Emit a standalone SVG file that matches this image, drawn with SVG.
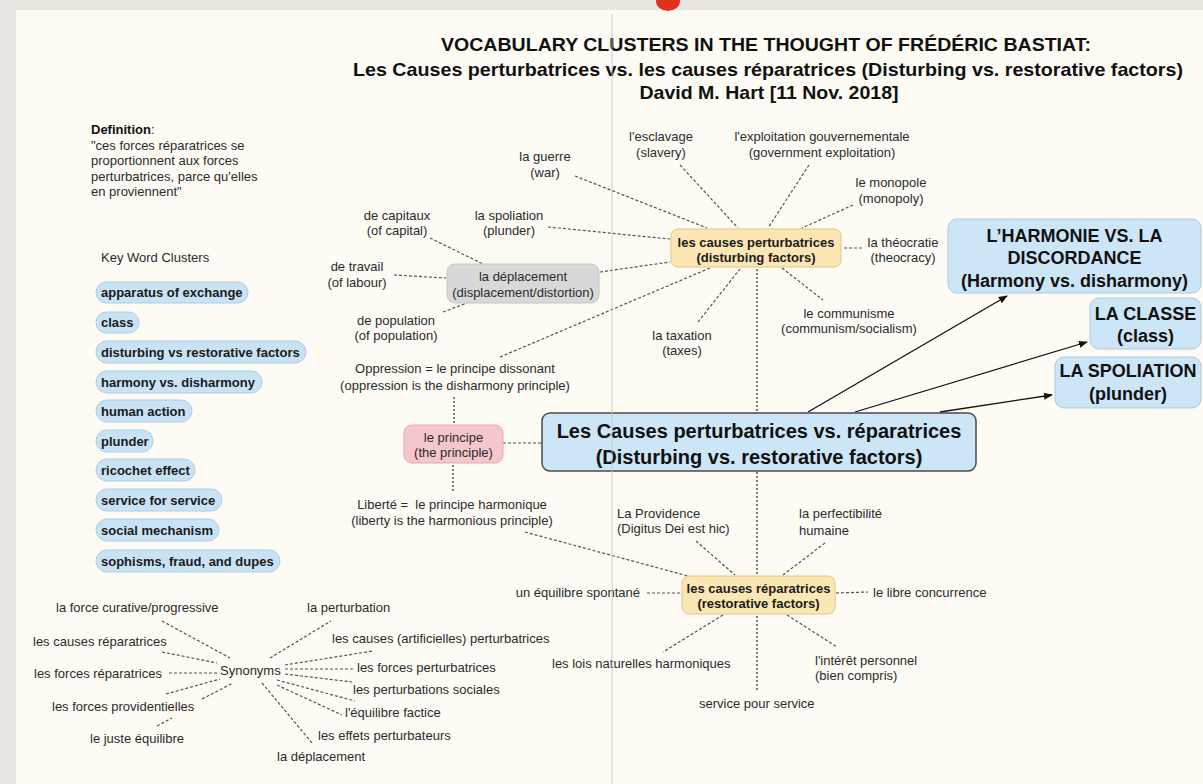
<svg xmlns="http://www.w3.org/2000/svg" width="1203" height="784" viewBox="0 0 1203 784">
<defs>
<style>
.lbl{font-family:"Liberation Sans",Arial,sans-serif;font-size:13px;fill:#2b2b2b}
.c{text-anchor:middle}
.b{font-weight:bold;fill:#1a1a1a}
.pilltxt{font-family:"Liberation Sans",Arial,sans-serif;font-size:13px;font-weight:bold;fill:#1a1a1a}
.pill{fill:#c9e3f5;stroke:#a9cfe8;stroke-width:1}
.ttl{font-family:"Liberation Sans Narrow","Liberation Sans",Arial,sans-serif;font-size:19px;font-weight:bold;fill:#111;text-anchor:middle}
.dash{stroke:#555;stroke-width:1.2;stroke-dasharray:3 2;fill:none}
.dot{stroke:#555;stroke-width:1.5;stroke-dasharray:2 2;fill:none}
.arr{stroke:#111;stroke-width:1.3;fill:none;marker-end:url(#ah)}
.big{fill:#cce6f7;stroke:#a8cce6;stroke-width:1}
.bigtxt{font-family:"Liberation Sans",Arial,sans-serif;font-size:18px;font-weight:bold;fill:#111;text-anchor:middle}
.clus{fill:#fbe6b4;stroke:#e0c488;stroke-width:1}
</style>
<marker id="ah" viewBox="0 0 10 10" refX="9" refY="5" markerWidth="9" markerHeight="9" markerUnits="userSpaceOnUse" orient="auto">
<path d="M0,1 L10,5 L0,9 Z" fill="#111"/>
</marker>
</defs>

<!-- background -->
<rect x="0" y="0" width="1203" height="784" fill="#e9e6e1"/>
<rect x="16" y="10" width="1187" height="774" fill="#fdfbf4"/>
<ellipse cx="668" cy="1" rx="12" ry="10" fill="#e0301e"/>

<!-- title -->
<g id="title">
<text class="ttl" x="766" y="51" textLength="650" lengthAdjust="spacingAndGlyphs">VOCABULARY CLUSTERS IN THE THOUGHT OF FRÉDÉRIC BASTIAT:</text>
<text class="ttl" x="768" y="76" textLength="830" lengthAdjust="spacingAndGlyphs">Les Causes perturbatrices vs. les causes réparatrices (Disturbing vs. restorative factors)</text>
<text class="ttl" x="769" y="99" textLength="259" lengthAdjust="spacingAndGlyphs">David M. Hart [11 Nov. 2018]</text>
</g>

<!-- definition -->
<g id="definition">
<text class="lbl" x="91" y="134"><tspan font-weight="bold" fill="#111">Definition</tspan>:</text>
<text class="lbl" x="91" y="150">"ces forces réparatrices se</text>
<text class="lbl" x="91" y="165">proportionnent aux forces</text>
<text class="lbl" x="91" y="181">perturbatrices, parce qu'elles</text>
<text class="lbl" x="91" y="196">en proviennent"</text>
</g>

<!-- key word clusters -->
<g id="keywords">
<text class="lbl" x="101" y="262" font-size="12">Key Word Clusters</text>
<rect class="pill" x="96" y="282" width="152" height="21" rx="10.5"/><text class="pilltxt" x="101" y="297">apparatus of exchange</text>
<rect class="pill" x="96" y="312" width="43" height="21" rx="10.5"/><text class="pilltxt" x="101" y="327">class</text>
<rect class="pill" x="96" y="341" width="210" height="22" rx="11"/><text class="pilltxt" x="101" y="356.5">disturbing vs restorative factors</text>
<rect class="pill" x="96" y="371" width="166" height="22" rx="11"/><text class="pilltxt" x="101" y="386.5">harmony vs. disharmony</text>
<rect class="pill" x="96" y="400" width="96" height="22" rx="11"/><text class="pilltxt" x="101" y="415.5">human action</text>
<rect class="pill" x="96" y="430" width="57" height="22" rx="11"/><text class="pilltxt" x="101" y="445.5">plunder</text>
<rect class="pill" x="96" y="459" width="99" height="22" rx="11"/><text class="pilltxt" x="101" y="474.5">ricochet effect</text>
<rect class="pill" x="96" y="489" width="126" height="22" rx="11"/><text class="pilltxt" x="101" y="504.5">service for service</text>
<rect class="pill" x="96" y="519" width="123" height="22" rx="11"/><text class="pilltxt" x="101" y="534.5">social mechanism</text>
<rect class="pill" x="96" y="550" width="184" height="22" rx="11"/><text class="pilltxt" x="101" y="565.5">sophisms, fraud, and dupes</text>
</g>

<!-- connectors -->
<g id="connectors">
<line class="dash" x1="575" y1="176" x2="707" y2="228"/>
<line class="dash" x1="680" y1="165" x2="738" y2="228"/>
<line class="dash" x1="809" y1="165" x2="768" y2="228"/>
<line class="dash" x1="853" y1="205" x2="802" y2="228"/>
<line class="dash" x1="844" y1="248" x2="863" y2="248"/>
<line class="dash" x1="548" y1="227" x2="670" y2="239"/>
<line class="dash" x1="600" y1="272" x2="670" y2="262"/>
<line class="dash" x1="500" y1="357" x2="710" y2="268"/>
<line class="dash" x1="698" y1="322" x2="740" y2="269"/>
<line class="dash" x1="782" y1="268" x2="823" y2="300"/>
<line class="dash" x1="430" y1="238" x2="483" y2="264"/>
<line class="dash" x1="394" y1="275" x2="446" y2="278"/>
<line class="dash" x1="443" y1="312" x2="467" y2="303"/>
<line class="dot" x1="757" y1="269" x2="757" y2="412"/>
<line class="dot" x1="454" y1="397" x2="454" y2="424"/>
<line class="dot" x1="453" y1="465" x2="453" y2="492"/>
<line class="dash" x1="503" y1="443" x2="541" y2="443"/>
<line class="dot" x1="757" y1="472" x2="757" y2="575"/>
<line class="dot" x1="757" y1="616" x2="757" y2="690"/>
<line class="dash" x1="525" y1="532" x2="688" y2="576"/>
<line class="dash" x1="696" y1="541" x2="735" y2="575"/>
<line class="dash" x1="825" y1="543" x2="783" y2="575"/>
<line class="dash" x1="647" y1="593" x2="681" y2="593"/>
<line class="dash" x1="836" y1="593" x2="868" y2="592"/>
<line class="dash" x1="723" y1="615" x2="663" y2="652"/>
<line class="dash" x1="787" y1="615" x2="837" y2="647"/>
<line class="dash" x1="162" y1="621" x2="230" y2="658"/>
<line class="dash" x1="162" y1="652" x2="217" y2="663"/>
<line class="dash" x1="169" y1="673" x2="217" y2="673"/>
<line class="dash" x1="166" y1="694" x2="220" y2="679"/>
<line class="dash" x1="202" y1="699" x2="233" y2="683"/>
<line class="dash" x1="157" y1="726" x2="172" y2="718"/>
<line class="dash" x1="270" y1="658" x2="331" y2="621"/>
<line class="dash" x1="285" y1="665" x2="373" y2="651"/>
<line class="dash" x1="285" y1="669" x2="353" y2="669"/>
<line class="dash" x1="285" y1="674" x2="352" y2="682"/>
<line class="dash" x1="277" y1="680" x2="355" y2="701"/>
<line class="dash" x1="277" y1="685" x2="342" y2="715"/>
<line class="dash" x1="262" y1="683" x2="312" y2="743"/>
<line class="arr" x1="808" y1="412" x2="1007" y2="296"/>
<line class="arr" x1="855" y1="412" x2="1087" y2="342"/>
<line class="arr" x1="940" y1="412" x2="1052" y2="395"/>
</g>

<!-- perturbatrices cluster -->
<g id="n-perturbatrices">
<rect class="clus" x="671" y="229" width="170" height="38" rx="7"/>
<text class="lbl c b" x="756" y="246.5">les causes perturbatrices</text>
<text class="lbl c b" x="756" y="261.5">(disturbing factors)</text>
</g>
<g id="n-guerre"><text class="lbl c" x="545" y="161">la guerre</text><text class="lbl c" x="545" y="177">(war)</text></g>
<g id="n-esclavage"><text class="lbl c" x="661" y="141">l'esclavage</text><text class="lbl c" x="661" y="157">(slavery)</text></g>
<g id="n-exploitation"><text class="lbl c" x="822" y="141">l'exploitation gouvernementale</text><text class="lbl c" x="822" y="157">(government exploitation)</text></g>
<g id="n-monopole"><text class="lbl c" x="891" y="187">le monopole</text><text class="lbl c" x="891" y="203">(monopoly)</text></g>
<g id="n-spoliation"><text class="lbl c" x="509" y="220">la spoliation</text><text class="lbl c" x="509" y="235">(plunder)</text></g>
<g id="n-theocratie"><text class="lbl c" x="903" y="247">la théocratie</text><text class="lbl c" x="903" y="262">(theocracy)</text></g>
<g id="n-communisme"><text class="lbl c" x="849" y="318">le communisme</text><text class="lbl c" x="849" y="333">(communism/socialism)</text></g>
<g id="n-taxation"><text class="lbl c" x="682" y="340">la taxation</text><text class="lbl c" x="682" y="355">(taxes)</text></g>
<g id="n-oppression"><text class="lbl c" x="455" y="373">Oppression = le principe dissonant</text><text class="lbl c" x="455" y="390">(oppression is the disharmony principle)</text></g>

<!-- deplacement -->
<g id="n-deplacement">
<rect x="447" y="264" width="152" height="39" rx="8" fill="#d8d8d8" stroke="#c6c6c6"/>
<text class="lbl c" x="523" y="280.5">la déplacement</text>
<text class="lbl c" x="523" y="296.5">(displacement/distortion)</text>
</g>
<g id="n-capitaux"><text class="lbl c" x="397" y="220">de capitaux</text><text class="lbl c" x="397" y="235">(of capital)</text></g>
<g id="n-travail"><text class="lbl c" x="357" y="271">de travail</text><text class="lbl c" x="357" y="287">(of labour)</text></g>
<g id="n-population"><text class="lbl c" x="396" y="325">de population</text><text class="lbl c" x="396" y="340">(of population)</text></g>

<!-- principe -->
<g id="n-principe">
<rect x="404" y="425" width="99" height="38" rx="8" fill="#f5c6cb" stroke="#e6a9b1"/>
<text class="lbl c" x="453.5" y="441.5">le principe</text>
<text class="lbl c" x="453.5" y="456.5">(the principle)</text>
</g>
<g id="n-liberte"><text class="lbl c" x="452" y="509" style="white-space:pre">Liberté =  le principe harmonique</text><text class="lbl c" x="452" y="525">(liberty is the harmonious principle)</text></g>

<!-- main -->
<g id="n-main">
<rect x="542" y="413" width="434" height="58" rx="8" fill="#cce6f7" stroke="#4a4a4a" stroke-width="1.5"/>
<text x="759" y="438" text-anchor="middle" font-family="Liberation Sans, Arial, sans-serif" font-size="20" font-weight="bold" fill="#111">Les Causes perturbatrices vs. réparatrices</text>
<text x="759" y="464" text-anchor="middle" font-family="Liberation Sans, Arial, sans-serif" font-size="20" font-weight="bold" fill="#111">(Disturbing vs. restorative factors)</text>
</g>

<!-- right boxes -->
<g id="n-harmonie">
<rect class="big" x="948" y="219" width="253" height="74" rx="9"/>
<text class="bigtxt" x="1074.5" y="241.5">L’HARMONIE VS. LA</text>
<text class="bigtxt" x="1074.5" y="263.5">DISCORDANCE</text>
<text class="bigtxt" x="1074.5" y="286.5">(Harmony vs. disharmony)</text>
</g>
<g id="n-classe">
<rect class="big" x="1090" y="298" width="111" height="51" rx="9"/>
<text class="bigtxt" x="1145.5" y="319.5">LA CLASSE</text>
<text class="bigtxt" x="1145.5" y="341.5">(class)</text>
</g>
<g id="n-spoliation-box">
<rect class="big" x="1055" y="357" width="146" height="51" rx="9"/>
<text class="bigtxt" x="1128" y="376.5">LA SPOLIATION</text>
<text class="bigtxt" x="1128" y="399.5">(plunder)</text>
</g>

<!-- reparatrices cluster -->
<g id="n-reparatrices">
<rect class="clus" x="682" y="576" width="153" height="38" rx="7"/>
<text class="lbl c b" x="758.5" y="592.5">les causes réparatrices</text>
<text class="lbl c b" x="758.5" y="607.5">(restorative factors)</text>
</g>
<g id="n-providence"><text class="lbl" x="617" y="518">La Providence</text><text class="lbl" x="617" y="533">(Digitus Dei est hic)</text></g>
<g id="n-perfectibilite"><text class="lbl" x="799" y="518">la perfectibilité</text><text class="lbl" x="799" y="535">humaine</text></g>
<g id="n-equilibre"><text class="lbl" x="640" y="597" text-anchor="end">un équilibre spontané</text></g>
<g id="n-libre"><text class="lbl" x="873" y="597">le libre concurrence</text></g>
<g id="n-lois"><text class="lbl" x="552" y="668">les lois naturelles harmoniques</text></g>
<g id="n-interet"><text class="lbl" x="815" y="665">l'intérêt personnel</text><text class="lbl" x="815" y="680">(bien compris)</text></g>
<g id="n-service"><text class="lbl" x="699" y="708">service pour service</text></g>

<!-- synonyms -->
<g id="n-synonyms"><text class="lbl" x="220" y="675">Synonyms</text></g>
<g id="s-curative"><text class="lbl" x="56" y="612">la force curative/progressive</text></g>
<g id="s-causes-rep"><text class="lbl" x="33" y="646">les causes réparatrices</text></g>
<g id="s-forces-rep"><text class="lbl" x="34" y="678">les forces réparatrices</text></g>
<g id="s-providentielles"><text class="lbl" x="52" y="711">les forces providentielles</text></g>
<g id="s-juste"><text class="lbl" x="90" y="743">le juste équilibre</text></g>
<g id="s-perturbation"><text class="lbl" x="307" y="612">la perturbation</text></g>
<g id="s-causes-art"><text class="lbl" x="332" y="643">les causes (artificielles) perturbatrices</text></g>
<g id="s-forces-pert"><text class="lbl" x="357" y="672">les forces perturbatrices</text></g>
<g id="s-sociales"><text class="lbl" x="353" y="694">les perturbations sociales</text></g>
<g id="s-factice"><text class="lbl" x="345" y="717">l'équilibre factice</text></g>
<g id="s-effets"><text class="lbl" x="318" y="740">les effets perturbateurs</text></g>
<g id="s-deplacement"><text class="lbl" x="277" y="761">la déplacement</text></g>

<!-- page fold line -->
<line x1="612" y1="14" x2="612" y2="784" stroke="#c9c5bd" stroke-width="1.5" opacity="0.55"/>
</svg>
